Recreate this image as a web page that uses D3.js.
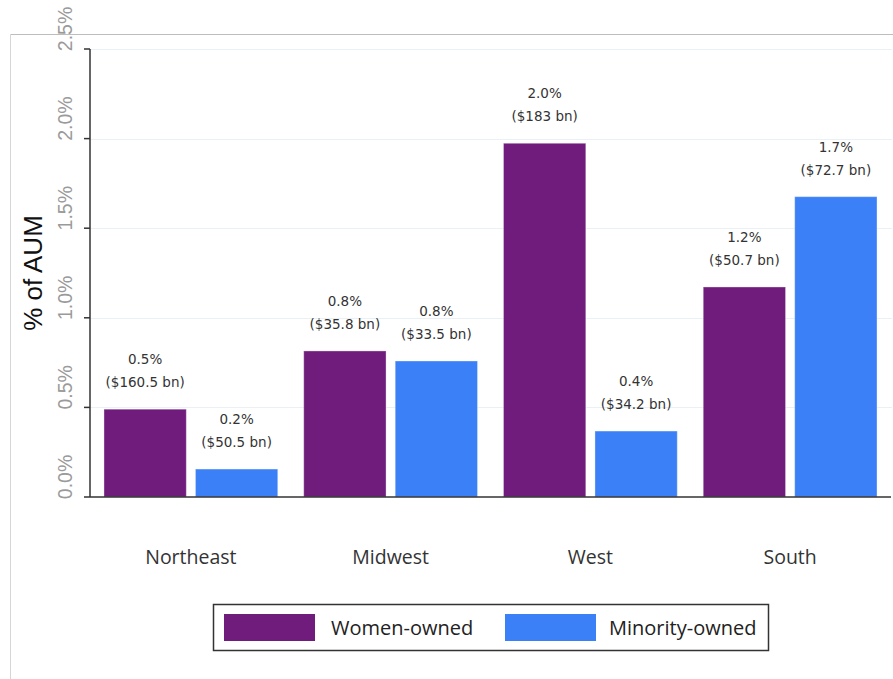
<!DOCTYPE html>
<html>
<head>
<meta charset="utf-8">
<script src="https://cdn.jsdelivr.net/npm/d3@7"></script>
<style>
  html, body { margin: 0; padding: 0; background: #fff; }
  svg { display: block; }
</style>
</head>
<body>
<svg id="chart" width="893" height="679"></svg>
<script>
const categories = ["Northeast", "Midwest", "West", "South"];
const seriesNames = ["Women-owned", "Minority-owned"];
const womenValues = [0.49, 0.815, 1.974, 1.172];
const minorityValues = [0.156, 0.759, 0.368, 1.676];
const womenPctLabels = ["0.5%", "0.8%", "2.0%", "1.2%"];
const womenAumLabels = ["($160.5 bn)", "($35.8 bn)", "($183 bn)", "($50.7 bn)"];
const minorityPctLabels = ["0.2%", "0.8%", "0.4%", "1.7%"];
const minorityAumLabels = ["($50.5 bn)", "($33.5 bn)", "($34.2 bn)", "($72.7 bn)"];
const yTicks = [0, 0.5, 1.0, 1.5, 2.0, 2.5];
const yTickLabels = ["0.0%", "0.5%", "1.0%", "1.5%", "2.0%", "2.5%"];
const colors = ["#701c7c", "#3b80f6"];

const rows = categories.map((c, i) => ({
  cat: c,
  vals: [
    { s: 0, v: womenValues[i], l1: womenPctLabels[i], l2: womenAumLabels[i] },
    { s: 1, v: minorityValues[i], l1: minorityPctLabels[i], l2: minorityAumLabels[i] }
  ]
}));

const svg = d3.select("#chart");
const plotLeft = 90, plotRight = 891, plotTop = 49, plotBottom = 497;

// outer border
svg.append("line").attr("x1", 10.5).attr("x2", 893).attr("y1", 34.5).attr("y2", 34.5)
  .attr("stroke", "#bdbdbd").attr("stroke-width", 1);
svg.append("line").attr("x1", 10.5).attr("x2", 10.5).attr("y1", 34.5).attr("y2", 679)
  .attr("stroke", "#d6d6d6").attr("stroke-width", 1);

const x = d3.scaleBand().domain(categories).range([plotLeft, plotRight]).paddingInner(0.13).paddingOuter(0.07);
const xs = d3.scaleBand().domain([0, 1]).range([0, x.bandwidth()]).paddingInner(0.1);
const y = d3.scaleLinear().domain([0, 2.5]).range([plotBottom, plotTop]);

// gridlines
svg.append("g").selectAll("line").data(yTicks.filter(t => t > 0)).join("line")
  .attr("x1", plotLeft).attr("x2", 892)
  .attr("y1", d => Math.round(y(d)) + 0.5).attr("y2", d => Math.round(y(d)) + 0.5)
  .attr("stroke", "#e9f0f6").attr("stroke-width", 1.2);

// bars
const groups = svg.append("g").selectAll("g").data(rows).join("g")
  .attr("transform", d => `translate(${x(d.cat)},0)`);
groups.selectAll("rect").data(d => d.vals).join("rect")
  .attr("x", d => xs(d.s)).attr("width", xs.bandwidth())
  .attr("y", d => y(d.v)).attr("height", d => y(0) - y(d.v))
  .attr("fill", d => colors[d.s])
  .attr("stroke", "#ffffff").attr("stroke-opacity", 0.35).attr("stroke-width", 1);

// value labels
groups.selectAll("text.l1").data(d => d.vals).join("text").attr("class", "l1")
  .attr("x", d => xs(d.s) + xs.bandwidth() / 2).attr("y", d => y(d.v) - 45)
  .attr("text-anchor", "middle").attr("font-family", "DejaVu Sans").attr("font-size", 13.5)
  .attr("fill", "#333").text(d => d.l1);
groups.selectAll("text.l2").data(d => d.vals).join("text").attr("class", "l2")
  .attr("x", d => xs(d.s) + xs.bandwidth() / 2).attr("y", d => y(d.v) - 22)
  .attr("text-anchor", "middle").attr("font-family", "DejaVu Sans").attr("font-size", 13.5)
  .attr("fill", "#333").text(d => d.l2);

// y axis
const yAxis = svg.append("g");
yAxis.append("line").attr("x1", plotLeft).attr("x2", plotLeft).attr("y1", plotTop).attr("y2", plotBottom)
  .attr("stroke", "#333").attr("stroke-width", 1.5);
yAxis.selectAll("line.tick").data(yTicks).join("line").attr("class", "tick")
  .attr("x1", plotLeft - 6).attr("x2", plotLeft).attr("y1", d => y(d)).attr("y2", d => y(d))
  .attr("stroke", "#333").attr("stroke-width", 1.5);
yAxis.selectAll("text").data(yTicks).join("text")
  .attr("transform", d => `translate(72,${y(d) - 20}) rotate(-90)`)
  .attr("text-anchor", "middle").attr("font-family", "Liberation Sans, Arial").attr("font-size", 19.5)
  .attr("fill", "#9a9a9a").text((d, i) => yTickLabels[i]);

// x axis line
svg.append("line").attr("x1", plotLeft).attr("x2", plotRight).attr("y1", plotBottom).attr("y2", plotBottom)
  .attr("stroke", "#333").attr("stroke-width", 1.5);

// category labels
svg.append("g").selectAll("text").data(categories).join("text")
  .attr("x", d => x(d) + x.bandwidth() / 2).attr("y", 564)
  .attr("text-anchor", "middle").attr("font-family", "Open Sans").attr("font-size", 19.5)
  .attr("fill", "#333").text(d => d);

// y title
svg.append("text").attr("transform", "translate(42,273) rotate(-90)")
  .attr("text-anchor", "middle").attr("font-family", "Liberation Sans, Arial").attr("font-size", 26)
  .attr("fill", "#111").text("% of AUM");

// legend
const lg = svg.append("g");
lg.append("rect").attr("x", 213.5).attr("y", 604.5).attr("width", 555).attr("height", 46)
  .attr("fill", "#fff").attr("stroke", "#333").attr("stroke-width", 1.5);
const legendX = [224, 505];
const legendTextX = [331, 609];
seriesNames.forEach((n, i) => {
  lg.append("rect").attr("x", legendX[i]).attr("y", 614).attr("width", 91).attr("height", 27)
    .attr("fill", colors[i]);
  lg.append("text").attr("x", legendTextX[i]).attr("y", 635)
    .attr("font-family", "Open Sans").attr("font-size", 20).attr("fill", "#222").text(n);
});
</script>
</body>
</html>
